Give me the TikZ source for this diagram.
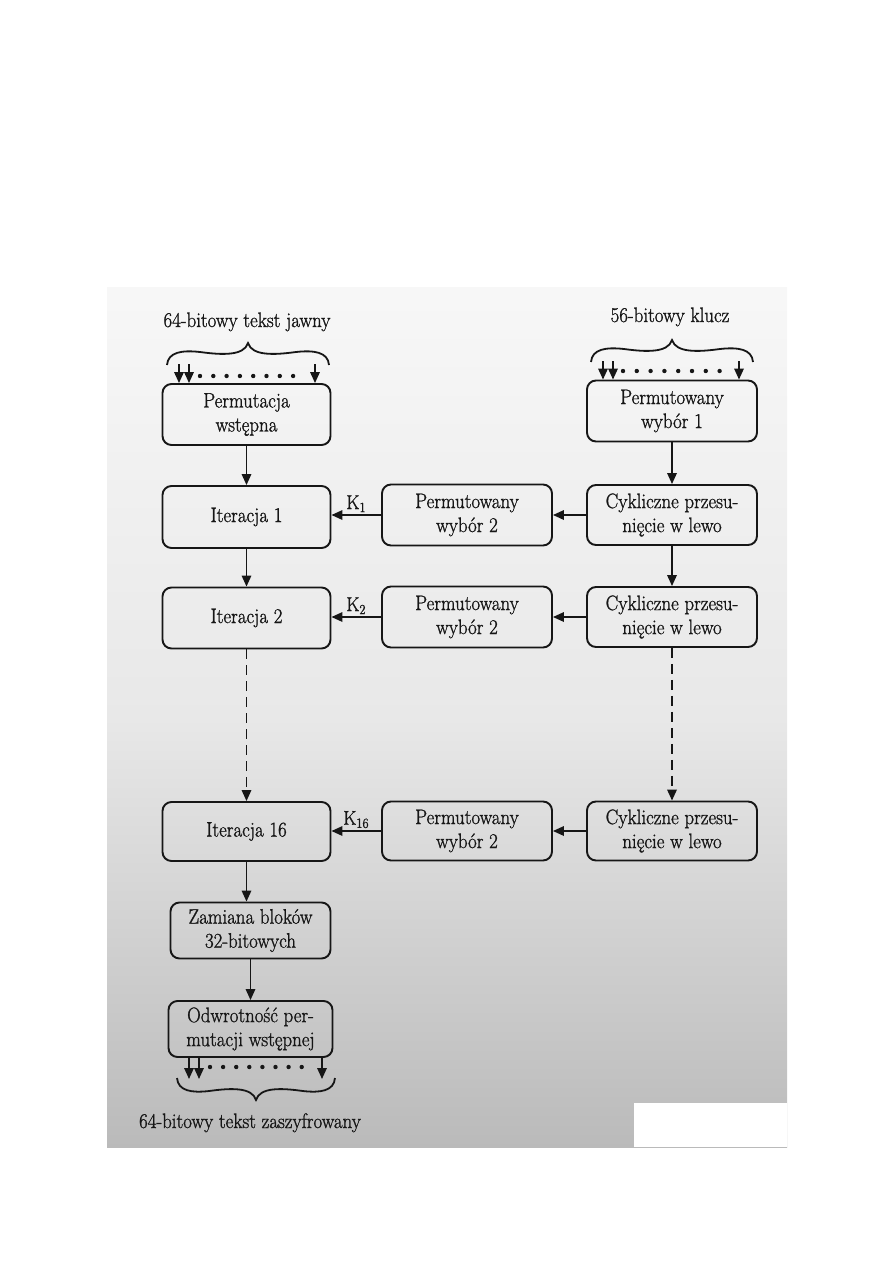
\documentclass[tikz,border=0pt]{standalone}
\usepackage{fontspec}
\newfontfamily\dfont{Latin Modern Roman}[FakeBold=1.1, FakeStretch=0.9]
\usetikzlibrary{arrows.meta}
\definecolor{ink}{HTML}{161616}
\begin{document}
\begin{tikzpicture}[x=1pt,y=1pt,
  box/.style={draw=ink, line width=1.9pt, rounded corners=9pt, align=center, inner sep=0pt,
    font=\dfont\fontsize{21}{24}\selectfont, text=ink},
  conn/.style={draw=ink, line width=1.7pt, -{Triangle[length=11pt,width=9.5pt]}},
  dconn/.style={conn, dash pattern=on 10pt off 6pt},
  lbl/.style={font=\dfont\fontsize{21}{24}\selectfont, text=ink, inner sep=0pt},
  klbl/.style={font=\dfont\fontsize{20}{22}\selectfont, text=ink, inner sep=0pt},
  brc/.style={draw=ink, line width=1.8pt},
  bitdot/.style={fill=ink},
  ovbr/.pic={\draw[brc] (-81,0) .. controls (-80,13) and (-66,15) .. (-48,13)
      .. controls (-26,10) and (-4,9) .. (0,22)
      .. controls (4,9) and (26,10) .. (48,13)
      .. controls (66,15) and (80,13) .. (81,0);}]
\useasboundingbox (0,0) rectangle (893,-1263);
% scanned page background
\fill[top color=black!3, bottom color=black!27, middle color=black!9] (107,-287) rectangle (787,-1147);
\fill[white] (634,-1103) rectangle (787,-1147);

% texts
\node[lbl, anchor=base] (tin) at (247,-327) {64-bitowy tekst jawny};
\node[lbl, anchor=base] (tkey) at (670,-322) {56-bitowy klucz};
\node[lbl, anchor=base] (tout) at (250,-1128) {64-bitowy tekst zaszyfrowany};

% left column
\node[box, minimum width=168pt, minimum height=61pt] (pw) at (246.5,-414.5) {Permutacja\\wstępna};
\node[box, minimum width=168pt, minimum height=62pt] (it1) at (246.5,-517) {Iteracja 1};
\node[box, minimum width=168pt, minimum height=61pt] (it2) at (246.5,-618) {Iteracja 2};
\node[box, minimum width=168pt, minimum height=59pt] (it16) at (246.5,-831.5) {Iteracja 16};
\node[box, minimum width=160pt, minimum height=56pt] (zam) at (250.5,-930.5) {Zamiana bloków\\32-bitowych};
\node[box, minimum width=164pt, minimum height=56pt] (odw) at (250.5,-1029) {Odwrotność per-\\mutacji wstępnej};

% middle column
\node[box, minimum width=170pt, minimum height=61pt] (pwa) at (467,-515) {Permutowany\\wybór 2};
\node[box, minimum width=170pt, minimum height=61pt] (pwb) at (467,-617) {Permutowany\\wybór 2};
\node[box, minimum width=170pt, minimum height=59pt] (pwc) at (467,-831) {Permutowany\\wybór 2};

% right column
\node[box, minimum width=170pt, minimum height=61pt] (pw1) at (672,-411) {Permutowany\\wybór 1};
\node[box, minimum width=170pt, minimum height=60pt] (cya) at (672,-515) {Cykliczne przesu-\\nięcie w lewo};
\node[box, minimum width=170pt, minimum height=60pt] (cyb) at (672,-617) {Cykliczne przesu-\\nięcie w lewo};
\node[box, minimum width=170pt, minimum height=59pt] (cyc) at (672,-831) {Cykliczne przesu-\\nięcie w lewo};

% braces
\pic at (248,-365) {ovbr};
\pic at (672,-362) {ovbr};
\pic[yscale=-1, xscale=0.975] at (256,-1078) {ovbr};

% input bits (plaintext)
\coordinate (pa) at (179,-364);
\coordinate (pb) at (189,-364);
\coordinate (pc) at (315,-364);
\draw[conn] (pa) -- (pa |- pw.north);
\draw[conn] (pb) -- (pb |- pw.north);
\draw[conn] (pc) -- (pc |- pw.north);
\foreach \i in {0,...,7} \fill[bitdot] (200+\i*13.3,-376) circle (2.2pt);

% input bits (key)
\coordinate (ka) at (603,-361);
\coordinate (kb) at (613,-361);
\coordinate (kc) at (739,-361);
\draw[conn] (ka) -- (ka |- pw1.north);
\draw[conn] (kb) -- (kb |- pw1.north);
\draw[conn] (kc) -- (kc |- pw1.north);
\foreach \i in {0,...,7} \fill[bitdot] (623+\i*13.8,-371) circle (2.2pt);

% output bits
\coordinate (oa) at (189,-1079);
\coordinate (ob) at (199,-1079);
\coordinate (oc) at (322,-1079);
\draw[conn] (oa |- odw.south) -- (oa);
\draw[conn] (ob |- odw.south) -- (ob);
\draw[conn] (oc |- odw.south) -- (oc);
\foreach \i in {0,...,7} \fill[bitdot] (210+\i*13.1,-1067) circle (2.2pt);

% left column flow
\draw[conn] (pw) -- (it1);
\draw[conn] (it1) -- (it2);
\draw[dconn] (it2) -- (it16);
\draw[conn] (it16.south) -- (it16.south |- zam.north);
\draw[conn] (zam) -- (odw);

% right column flow
\draw[conn] (pw1) -- (cya);
\draw[conn] (cya) -- (cyb);
\draw[dconn] (cyb) -- (cyc);

% horizontal flow
\draw[conn] (cya) -- (pwa);
\draw[conn] (cyb) -- (pwb);
\draw[conn] (cyc) -- (pwc);
\draw[conn] (pwa.west) -- (pwa.west -| it1.east) node[klbl, midway, above=2pt] {K\textsubscript{1}};
\draw[conn] (pwb.west) -- (pwb.west -| it2.east) node[klbl, midway, above=2pt] {K\textsubscript{2}};
\draw[conn] (pwc.west) -- (pwc.west -| it16.east) node[klbl, midway, above=2pt] {K\textsubscript{16}};
\end{tikzpicture}
\end{document}
